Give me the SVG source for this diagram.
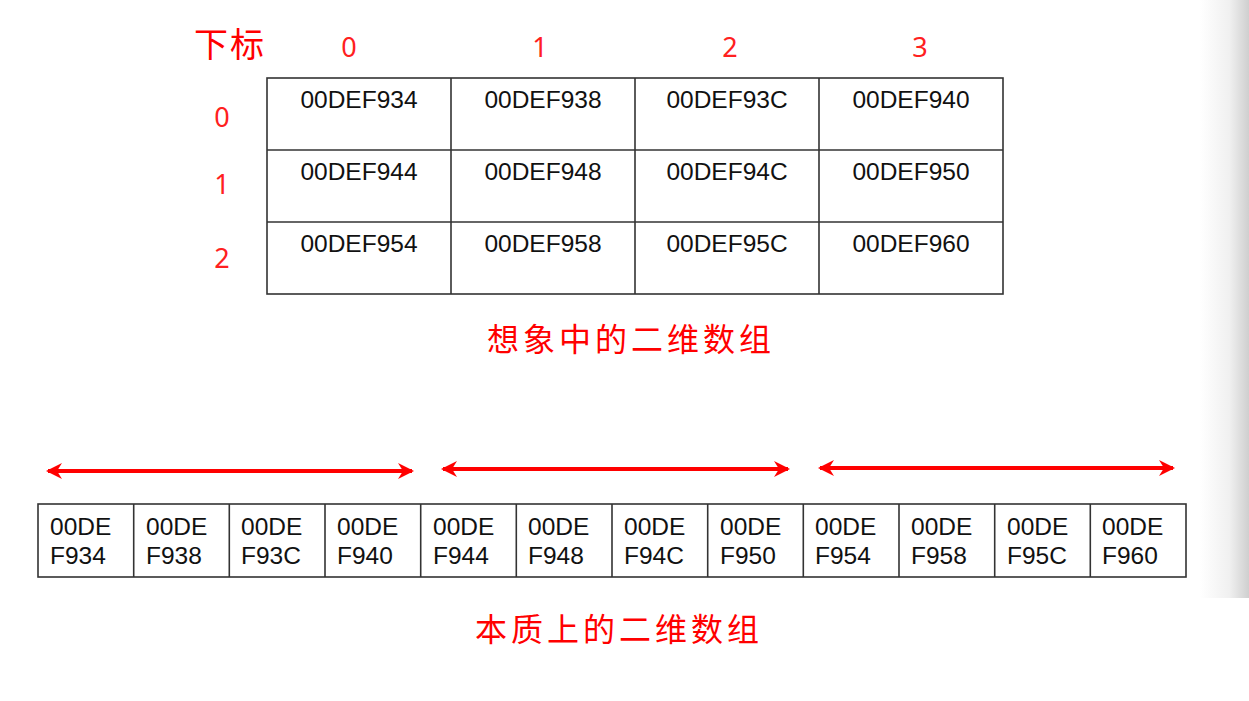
<svg xmlns="http://www.w3.org/2000/svg" width="1249" height="701" viewBox="0 0 1249 701">
<defs>
<linearGradient id="edge" x1="0" y1="0" x2="1" y2="0">
<stop offset="0" stop-color="#ffffff"/>
<stop offset="0.6" stop-color="#f0f0f0"/>
<stop offset="1" stop-color="#cfcfcf"/>
</linearGradient>
<marker id="ah" viewBox="0 0 16 16" refX="14" refY="8" markerWidth="16" markerHeight="16" markerUnits="userSpaceOnUse" orient="auto-start-reverse">
<path d="M0,0 L16,8 L0,16 L5,8 Z" fill="#ff0000"/>
</marker>
<style>
.cell{fill:#fff;stroke:#333;stroke-width:1.6}
.t{font-family:"Liberation Sans","Noto Sans CJK SC",sans-serif;font-size:24.5px;fill:#111}
.tc{text-anchor:middle}
.r{font-family:"Noto Sans","Noto Sans CJK SC",sans-serif;fill:#ff2020;font-size:27px;text-anchor:middle}
.cjk{font-family:"Noto Sans CJK SC",sans-serif;fill:#ff0000}
.arr{stroke:#ff0000;stroke-width:4;fill:none;marker-start:url(#ah);marker-end:url(#ah)}
</style>
</defs>
<rect width="1249" height="701" fill="#fff"/>
<rect x="1200" y="0" width="49" height="598" fill="url(#edge)"/>

<g id="labels">
<text class="cjk" x="194" y="57" font-size="34" letter-spacing="2">下标</text>
<text class="r" x="349" y="57">0</text>
<text class="r" x="540" y="57">1</text>
<text class="r" x="730" y="57">2</text>
<text class="r" x="920" y="57">3</text>
<text class="r" x="222" y="127">0</text>
<text class="r" x="222" y="194">1</text>
<text class="r" x="222" y="268">2</text>
</g>

<g id="grid">
<rect class="cell" x="267" y="78" width="736" height="216"/>
<line x1="451" y1="78" x2="451" y2="294" stroke="#333" stroke-width="1.6"/>
<line x1="635" y1="78" x2="635" y2="294" stroke="#333" stroke-width="1.6"/>
<line x1="819" y1="78" x2="819" y2="294" stroke="#333" stroke-width="1.6"/>
<line x1="267" y1="150" x2="1003" y2="150" stroke="#333" stroke-width="1.6"/>
<line x1="267" y1="222" x2="1003" y2="222" stroke="#333" stroke-width="1.6"/>
<text class="t tc" x="359" y="108">00DEF934</text>
<text class="t tc" x="543" y="108">00DEF938</text>
<text class="t tc" x="727" y="108">00DEF93C</text>
<text class="t tc" x="911" y="108">00DEF940</text>
<text class="t tc" x="359" y="180">00DEF944</text>
<text class="t tc" x="543" y="180">00DEF948</text>
<text class="t tc" x="727" y="180">00DEF94C</text>
<text class="t tc" x="911" y="180">00DEF950</text>
<text class="t tc" x="359" y="252">00DEF954</text>
<text class="t tc" x="543" y="252">00DEF958</text>
<text class="t tc" x="727" y="252">00DEF95C</text>
<text class="t tc" x="911" y="252">00DEF960</text>
</g>

<g id="title1">
<text class="cjk" x="487" y="351" font-size="32" letter-spacing="4">想象中的二维数组</text>
</g>

<g id="connectors">
<line class="arr" x1="48" y1="471" x2="412" y2="471"/>
<line class="arr" x1="443" y1="469" x2="788" y2="469"/>
<line class="arr" x1="820" y1="468" x2="1173" y2="468"/>
</g>

<g id="memory">
<rect class="cell" x="38" y="504" width="1148" height="73"/>
<g stroke="#333" stroke-width="1.6">
<line x1="133.7" y1="504" x2="133.7" y2="577"/>
<line x1="229.3" y1="504" x2="229.3" y2="577"/>
<line x1="325" y1="504" x2="325" y2="577"/>
<line x1="420.7" y1="504" x2="420.7" y2="577"/>
<line x1="516.3" y1="504" x2="516.3" y2="577"/>
<line x1="612" y1="504" x2="612" y2="577"/>
<line x1="707.7" y1="504" x2="707.7" y2="577"/>
<line x1="803.3" y1="504" x2="803.3" y2="577"/>
<line x1="899" y1="504" x2="899" y2="577"/>
<line x1="994.7" y1="504" x2="994.7" y2="577"/>
<line x1="1090.3" y1="504" x2="1090.3" y2="577"/>
</g>
<g class="t">
<text x="50" y="535">00DE<tspan x="50" dy="29">F934</tspan></text>
<text x="146" y="535">00DE<tspan x="146" dy="29">F938</tspan></text>
<text x="241" y="535">00DE<tspan x="241" dy="29">F93C</tspan></text>
<text x="337" y="535">00DE<tspan x="337" dy="29">F940</tspan></text>
<text x="433" y="535">00DE<tspan x="433" dy="29">F944</tspan></text>
<text x="528" y="535">00DE<tspan x="528" dy="29">F948</tspan></text>
<text x="624" y="535">00DE<tspan x="624" dy="29">F94C</tspan></text>
<text x="720" y="535">00DE<tspan x="720" dy="29">F950</tspan></text>
<text x="815" y="535">00DE<tspan x="815" dy="29">F954</tspan></text>
<text x="911" y="535">00DE<tspan x="911" dy="29">F958</tspan></text>
<text x="1007" y="535">00DE<tspan x="1007" dy="29">F95C</tspan></text>
<text x="1102" y="535">00DE<tspan x="1102" dy="29">F960</tspan></text>
</g>
</g>

<g id="title2">
<text class="cjk" x="475" y="641" font-size="32" letter-spacing="4">本质上的二维数组</text>
</g>
</svg>
